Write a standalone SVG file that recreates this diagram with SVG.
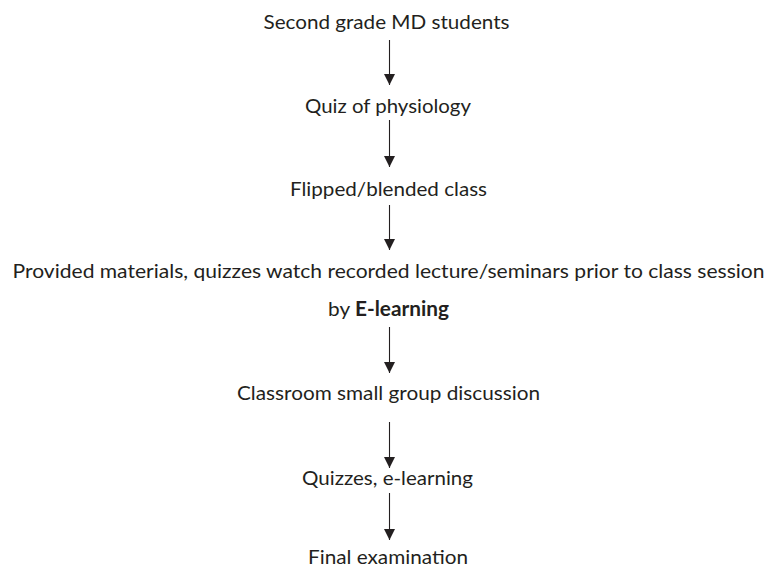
<svg xmlns="http://www.w3.org/2000/svg" width="768" height="568" viewBox="0 0 768 568">
<defs>
<marker id="ah" markerWidth="11" markerHeight="11" refX="11" refY="5.5" orient="auto" markerUnits="userSpaceOnUse" viewBox="0 0 11 11">
<path d="M0,0 L11,5.5 L0,11 z" fill="#231f20"/>
</marker>
<style>
text{font-family:Lato,"Open Sans","Liberation Sans",sans-serif;font-size:20px;fill:#231f20;text-anchor:middle}
.c{stroke:#231f20;stroke-width:1.1;fill:none;marker-end:url(#ah)}
</style>
</defs>
<rect width="768" height="568" fill="#fff"/>
<g id="n1"><text x="386.5" y="29" textLength="246" lengthAdjust="spacingAndGlyphs">Second grade MD students</text></g>
<g id="n2"><text x="388" y="113" textLength="166" lengthAdjust="spacingAndGlyphs">Quiz of physiology</text></g>
<g id="n3"><text x="388.5" y="196" textLength="197" lengthAdjust="spacingAndGlyphs">Flipped/blended class</text></g>
<g id="n4"><text x="388.5" y="278" textLength="752" lengthAdjust="spacingAndGlyphs">Provided materials, quizzes watch recorded lecture/seminars prior to class session</text><text x="388.5" y="316" textLength="121" lengthAdjust="spacingAndGlyphs">by <tspan font-weight="bold">E-learning</tspan></text></g>
<g id="n5"><text x="388.5" y="400" textLength="303" lengthAdjust="spacingAndGlyphs">Classroom small group discussion</text></g>
<g id="n6"><text x="387.5" y="485" textLength="171" lengthAdjust="spacingAndGlyphs">Quizzes, e-learning</text></g>
<g id="n7"><text x="388" y="563.5" textLength="160" lengthAdjust="spacingAndGlyphs">Final examination</text></g>
<g id="connectors">
<line class="c" x1="389.5" y1="40" x2="389.5" y2="85"/>
<line class="c" x1="389.5" y1="120" x2="389.5" y2="167"/>
<line class="c" x1="389.5" y1="205" x2="389.5" y2="250"/>
<line class="c" x1="389.5" y1="327" x2="389.5" y2="373"/>
<line class="c" x1="389.5" y1="422" x2="389.5" y2="468"/>
<line class="c" x1="389.5" y1="493" x2="389.5" y2="540"/>
</g>
</svg>
